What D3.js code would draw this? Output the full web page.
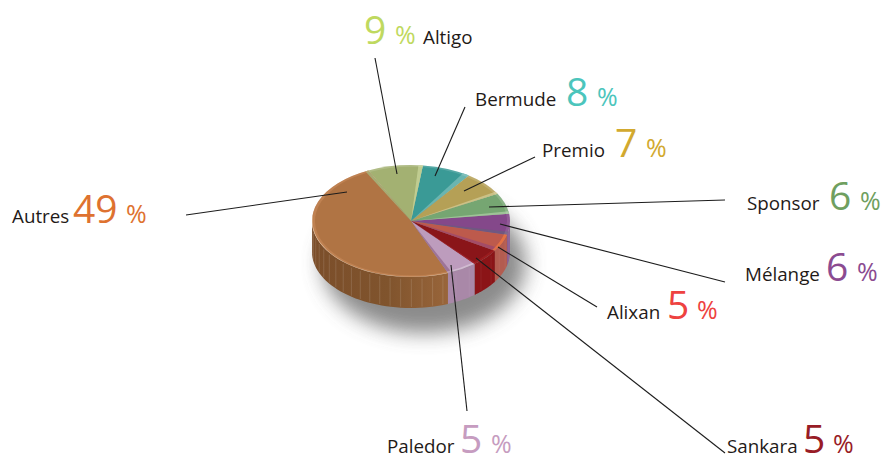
<!DOCTYPE html>
<html><head><meta charset="utf-8">
<script src="https://cdn.jsdelivr.net/npm/d3@7"></script>
<style>html,body{margin:0;padding:0;background:#fff}svg{display:block}text{font-family:"Open Sans",sans-serif}</style>
</head><body><svg id="c" width="886" height="455"></svg>
<script>
// Data
const categories=["Altigo","Bermude","Premio","Sponsor","Mélange","Alixan","Sankara","Paledor","Autres"];
const shares=[9,8,7,6,6,5,5,5,49];
// Styles
const labelColors=["#bfd95f","#4cc5bc","#d2a92f","#6f9f60","#8b4b91","#ee4240","#981c26","#c69cc0","#de7230"];
const topColors=["#a3b172","#3a9a96","#b5a056","#76a672","#84488a","#bd5a4c","#8a1519","#bd9cbd","#b07444"];
const stripColors=["#c3cf94","#70b8b3","#cdc48c","#a3c69b","#6d5a80","#a04a6a","#a02530","#9a7094","#a4b37a"];
const sideColors=["#000","#000","#000","#000","#8a5f92","#b35c50","#8b1417","#a988a8","url(#sideG)"];
const rimColors=["#fff","#fff","#fff","#fff","#fff","#f07a40","#c03030","#fff","#e0a070"];
const rimOpacity=[.14,.14,.14,.14,.1,.75,.3,.3,.3];
// Layout of annotations: [leader outer x,y, leader inner x,y]
const leaders=[[375,58,397,174],[465,107,435,176],[535,157,464,191],[725,200,489,207],[725,282,500,224],[597,307,498,247],[725,453,476,258],[467,411,451,265],[186,215,347,192]];
// [name x, name baseline, number x, number baseline, % x, % baseline]
const labelPos=[[423,44,364,44,395,44],[475,106,566,106,597,106],[542,157,615,157,646,157],[747,210,829,210,860,210],[745,281,826,281,857,281],[607,319,667,319,697,319],[727,453,803,453,833,453],[387,453,460,453,491,453],[12,223,73,223,126,223]];

const svg=d3.select("#c");
const cx=411,cy=221,rx=99,ry=56,depth=31;
const deg=Math.PI/180, startA=-25.5*deg;
const pie=d3.pie().sort(null).value(d=>d).startAngle(startA).endAngle(startA+2*Math.PI);
const arcs=pie(shares);
const defs=svg.append("defs");
defs.append("filter").attr("id","blur").attr("x","-30%").attr("y","-30%").attr("width","160%").attr("height","160%")
  .append("feGaussianBlur").attr("stdDeviation",10);
const g=defs.append("linearGradient").attr("id","sideG").attr("gradientUnits","userSpaceOnUse")
  .attr("x1",cx-rx).attr("x2",cx+40).attr("y1",0).attr("y2",0);
g.append("stop").attr("offset",0).attr("stop-color","#7b4e2a");
g.append("stop").attr("offset",0.55).attr("stop-color","#80542d");
g.append("stop").attr("offset",1).attr("stop-color","#9a663b");

// shadow
svg.append("ellipse").attr("cx",cx+13).attr("cy",cy+42).attr("rx",rx+3).attr("ry",ry+14)
  .attr("fill","#555").attr("opacity",.68).attr("filter","url(#blur)");

// side walls
const ex=a=>cx+rx*Math.sin(a), ey=a=>cy-ry*Math.cos(a);
const wall=d3.area().x(ex).y0(ey).y1(a=>ey(a)+depth);
arcs.forEach((d,i)=>{
  const a0=Math.max(d.startAngle,90*deg), a1=Math.min(d.endAngle,270*deg);
  if(a1<=a0) return;
  const n=40, as=d3.range(n+1).map(k=>a0+(a1-a0)*k/n);
  svg.append("path").attr("d",wall(as)).attr("fill",sideColors[i]);
  // vertical ribs on the wall
  const step=i===8?6.2:9;
  d3.range(Math.ceil(a0/deg/step)*step,a1/deg,step).forEach(t=>{
    const a=t*deg;
    svg.append("line").attr("x1",ex(a)).attr("x2",ex(a)).attr("y1",ey(a)+2).attr("y2",ey(a)+depth-1)
      .attr("stroke","#fff").attr("stroke-opacity",i===8?.16:.08).attr("stroke-width",.8);
  });
});

// top face
const face=svg.append("g").attr("transform",`translate(${cx},${cy}) scale(1,${ry/rx})`);
const arc=d3.arc().innerRadius(0).outerRadius(rx);
arcs.forEach((d,i)=>{
  face.append("path").attr("d",arc(d)).attr("fill",topColors[i]);
});
// bevel strips along the slice edges
const stripW=[2.6,4,2.5,2.5,3,3.5,1,2.2,2];
arcs.forEach((d,i)=>{
  face.append("path").attr("d",arc({startAngle:d.endAngle-stripW[i]*deg,endAngle:d.endAngle}))
    .attr("fill",stripColors[i]).attr("opacity",.9);
});
// rim highlight at the front of the top face
const rim=d3.arc().innerRadius(rx-3).outerRadius(rx);
arcs.forEach((d,i)=>{
  face.append("path").attr("d",rim(d)).attr("fill",rimColors[i]).attr("opacity",rimOpacity[i]);
});
const rimLine=d3.arc().innerRadius(rx-.6).outerRadius(rx);
face.append("path").attr("d",rimLine({startAngle:158*deg,endAngle:275*deg})).attr("fill","#e8c8a8").attr("opacity",.8);

// leaders
svg.append("g").selectAll("line").data(leaders).join("line")
  .attr("x1",d=>d[0]).attr("y1",d=>d[1]).attr("x2",d=>d[2]).attr("y2",d=>d[3])
  .attr("stroke","#1c1c1c").attr("stroke-width",1.1);

// labels
categories.forEach((c,i)=>{
  const p=labelPos[i];
  svg.append("text").attr("x",p[0]).attr("y",p[1]).attr("font-size",18.8).attr("fill","#1f1a17").text(c);
  svg.append("text").attr("x",p[2]).attr("y",p[3]).attr("font-size",39).attr("font-weight",400).attr("fill",labelColors[i]).text(shares[i]);
  svg.append("text").attr("x",p[4]).attr("y",p[5]).attr("font-size",25).attr("font-weight",400).attr("fill",labelColors[i]).text("%");
});
</script></body></html>
